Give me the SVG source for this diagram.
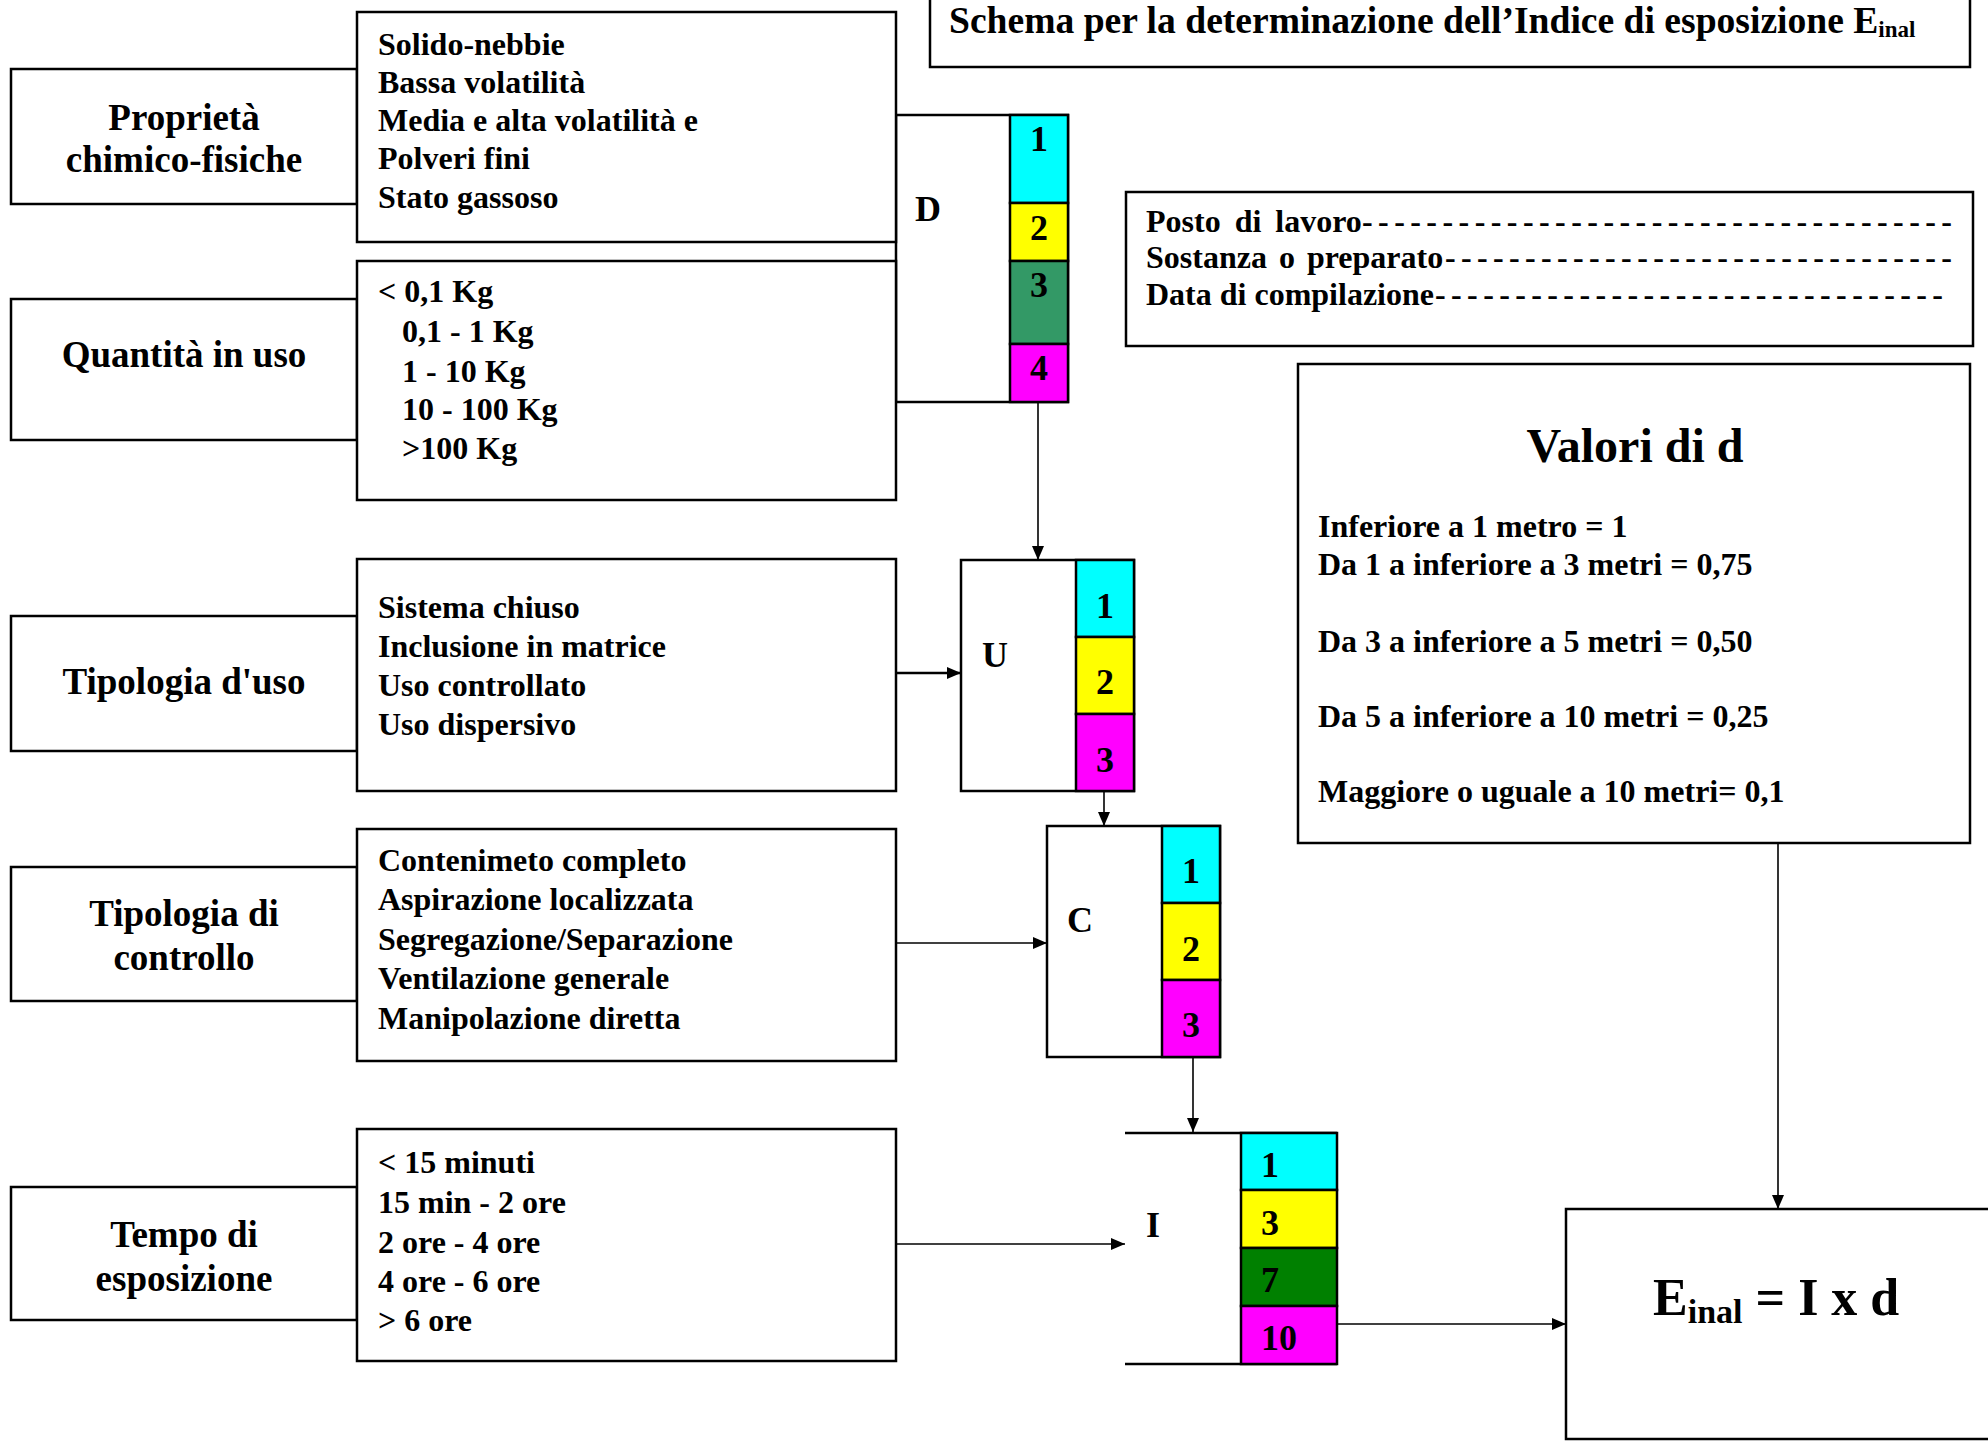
<svg xmlns="http://www.w3.org/2000/svg" width="1988" height="1446" viewBox="0 0 1988 1446">
<defs>
<style>
text{font-family:"Liberation Serif","Times New Roman",serif;font-weight:bold;fill:#000}
.box{fill:#fff;stroke:#000;stroke-width:2.5}
.frame{fill:none;stroke:#000;stroke-width:2.5}
.lbl{font-size:37px;text-anchor:middle}
.li{font-size:32px}
.num{font-size:36px;text-anchor:middle}
.let{font-size:36px}
.cy{fill:#00FFFF;stroke:#000;stroke-width:2.5}
.ye{fill:#FFFF00;stroke:#000;stroke-width:2.5}
.sg{fill:#339966;stroke:#000;stroke-width:2.5}
.gr{fill:#008000;stroke:#000;stroke-width:2.5}
.mg{fill:#FF00FF;stroke:#000;stroke-width:2.5}
.con{stroke:#000;fill:none;stroke-width:1.6;marker-end:url(#ah)}
.conT{stroke:#000;fill:none;stroke-width:2.4;marker-end:url(#ah)}
</style>
<marker id="ah" markerUnits="userSpaceOnUse" markerWidth="14" markerHeight="12" refX="14" refY="6" orient="auto">
<path d="M0,0 L14,6 L0,12 z" fill="#000"/>
</marker>
</defs>
<rect width="1988" height="1446" fill="#fff"/>

<g id="title">
<rect class="box" x="930" y="-5" width="1040" height="72"/>
<text x="949" y="33" font-size="37.6">Schema per la determinazione dell’Indice di esposizione E<tspan font-size="23" dy="4">inal</tspan></text>
</g>

<g id="info">
<rect class="box" x="1126" y="192" width="847" height="154"/>
<text class="li" x="1146" y="232" word-spacing="6">Posto di lavoro</text>
<text class="li" x="1362" y="232" textLength="590" lengthAdjust="spacing">-------------------------------------</text>
<text class="li" x="1146" y="268" word-spacing="4">Sostanza o preparato</text>
<text class="li" x="1445" y="268" textLength="507" lengthAdjust="spacing">--------------------------------</text>
<text class="li" x="1146" y="305">Data di compilazione</text>
<text class="li" x="1435" y="305" textLength="508" lengthAdjust="spacing">--------------------------------</text>
</g>

<g id="D-block">
<rect class="frame" x="896" y="115" width="172" height="287"/>
<rect class="cy" x="1010" y="115" width="58" height="88"/>
<rect class="ye" x="1010" y="203" width="58" height="58"/>
<rect class="sg" x="1010" y="261" width="58" height="83"/>
<rect class="mg" x="1010" y="344" width="58" height="58"/>
<text class="let" x="915" y="221">D</text>
<text class="num" x="1039" y="151">1</text>
<text class="num" x="1039" y="240">2</text>
<text class="num" x="1039" y="297">3</text>
<text class="num" x="1039" y="380">4</text>
</g>

<g id="proprieta">
<rect class="box" x="11" y="69" width="346" height="135"/>
<text class="lbl" x="184" y="130">Proprietà</text>
<text class="lbl" x="184" y="172">chimico-fisiche</text>
</g>
<g id="proprieta-list">
<rect class="box" x="357" y="12" width="539" height="230"/>
<text class="li" x="378" y="55">Solido-nebbie</text>
<text class="li" x="378" y="93">Bassa volatilità</text>
<text class="li" x="378" y="131">Media e alta volatilità e</text>
<text class="li" x="378" y="169">Polveri fini</text>
<text class="li" x="378" y="208">Stato gassoso</text>
</g>

<g id="quantita">
<rect class="box" x="11" y="299" width="346" height="141"/>
<text class="lbl" x="184" y="367">Quantità in uso</text>
</g>
<g id="quantita-list">
<rect class="box" x="357" y="261" width="539" height="239"/>
<text class="li" x="378" y="302">&lt; 0,1 Kg</text>
<text class="li" x="402" y="342">0,1 - 1 Kg</text>
<text class="li" x="402" y="382">1 - 10 Kg</text>
<text class="li" x="402" y="420">10 - 100 Kg</text>
<text class="li" x="402" y="459">&gt;100 Kg</text>
</g>

<g id="tipologia-uso">
<rect class="box" x="11" y="616" width="346" height="135"/>
<text class="lbl" x="184" y="694">Tipologia d'uso</text>
</g>
<g id="tipologia-uso-list">
<rect class="box" x="357" y="559" width="539" height="232"/>
<text class="li" x="378" y="618">Sistema chiuso</text>
<text class="li" x="378" y="657">Inclusione in matrice</text>
<text class="li" x="378" y="696">Uso controllato</text>
<text class="li" x="378" y="735">Uso dispersivo</text>
</g>

<g id="U-block">
<rect class="box" x="961" y="560" width="173" height="231"/>
<rect class="cy" x="1076" y="560" width="58" height="77"/>
<rect class="ye" x="1076" y="637" width="58" height="77"/>
<rect class="mg" x="1076" y="714" width="58" height="77"/>
<text class="let" x="982" y="667">U</text>
<text class="num" x="1105" y="618">1</text>
<text class="num" x="1105" y="694">2</text>
<text class="num" x="1105" y="772">3</text>
</g>

<g id="tipologia-controllo">
<rect class="box" x="11" y="867" width="346" height="134"/>
<text class="lbl" x="184" y="926">Tipologia di</text>
<text class="lbl" x="184" y="970">controllo</text>
</g>
<g id="tipologia-controllo-list">
<rect class="box" x="357" y="829" width="539" height="232"/>
<text class="li" x="378" y="871">Contenimeto completo</text>
<text class="li" x="378" y="910">Aspirazione localizzata</text>
<text class="li" x="378" y="950">Segregazione/Separazione</text>
<text class="li" x="378" y="989">Ventilazione generale</text>
<text class="li" x="378" y="1029">Manipolazione diretta</text>
</g>

<g id="C-block">
<rect class="box" x="1047" y="826" width="173" height="231"/>
<rect class="cy" x="1162" y="826" width="58" height="77"/>
<rect class="ye" x="1162" y="903" width="58" height="77"/>
<rect class="mg" x="1162" y="980" width="58" height="77"/>
<text class="let" x="1067" y="932">C</text>
<text class="num" x="1191" y="883">1</text>
<text class="num" x="1191" y="961">2</text>
<text class="num" x="1191" y="1037">3</text>
</g>

<g id="tempo">
<rect class="box" x="11" y="1187" width="346" height="133"/>
<text class="lbl" x="184" y="1247">Tempo di</text>
<text class="lbl" x="184" y="1291">esposizione</text>
</g>
<g id="tempo-list">
<rect class="box" x="357" y="1129" width="539" height="232"/>
<text class="li" x="378" y="1173">&lt; 15 minuti</text>
<text class="li" x="378" y="1213">15 min - 2 ore</text>
<text class="li" x="378" y="1253">2 ore - 4 ore</text>
<text class="li" x="378" y="1292">4 ore - 6 ore</text>
<text class="li" x="378" y="1331">&gt; 6 ore</text>
</g>

<g id="I-block">
<line x1="1125" y1="1133" x2="1337" y2="1133" stroke="#000" stroke-width="2.5"/>
<line x1="1125" y1="1364" x2="1337" y2="1364" stroke="#000" stroke-width="2.5"/>
<rect class="cy" x="1241" y="1133" width="96" height="57"/>
<rect class="ye" x="1241" y="1190" width="96" height="58"/>
<rect class="gr" x="1241" y="1248" width="96" height="58"/>
<rect class="mg" x="1241" y="1306" width="96" height="58"/>
<text class="let" x="1146" y="1237">I</text>
<text class="let" x="1261" y="1177">1</text>
<text class="let" x="1261" y="1235">3</text>
<text class="let" x="1261" y="1292">7</text>
<text class="let" x="1261" y="1350">10</text>
</g>

<g id="valori">
<rect class="box" x="1298" y="364" width="672" height="479"/>
<text x="1635" y="462" font-size="48" text-anchor="middle">Valori di d</text>
<text class="li" x="1318" y="537">Inferiore a 1 metro = 1</text>
<text class="li" x="1318" y="575">Da 1 a inferiore a 3 metri = 0,75</text>
<text class="li" x="1318" y="652">Da 3 a inferiore a 5 metri = 0,50</text>
<text class="li" x="1318" y="727">Da 5 a inferiore a 10 metri = 0,25</text>
<text class="li" x="1318" y="802">Maggiore o uguale a 10 metri= 0,1</text>
</g>

<g id="einal">
<rect class="box" x="1566" y="1209" width="430" height="230"/>
<text x="1653" y="1315" font-size="52">E<tspan font-size="34" dy="8">inal</tspan><tspan dy="-8"> = I x d</tspan></text>
</g>

<g id="connectors">
<line class="con" x1="1038" y1="402" x2="1038" y2="560"/>
<line class="conT" x1="896" y1="673" x2="961" y2="673"/>
<line class="con" x1="1104" y1="791" x2="1104" y2="826"/>
<line class="con" x1="896" y1="943" x2="1047" y2="943"/>
<line class="con" x1="1193" y1="1057" x2="1193" y2="1132"/>
<line class="con" x1="896" y1="1244" x2="1125" y2="1244"/>
<line class="con" x1="1337" y1="1324" x2="1566" y2="1324"/>
<line class="con" x1="1778" y1="843" x2="1778" y2="1209"/>
</g>
</svg>
